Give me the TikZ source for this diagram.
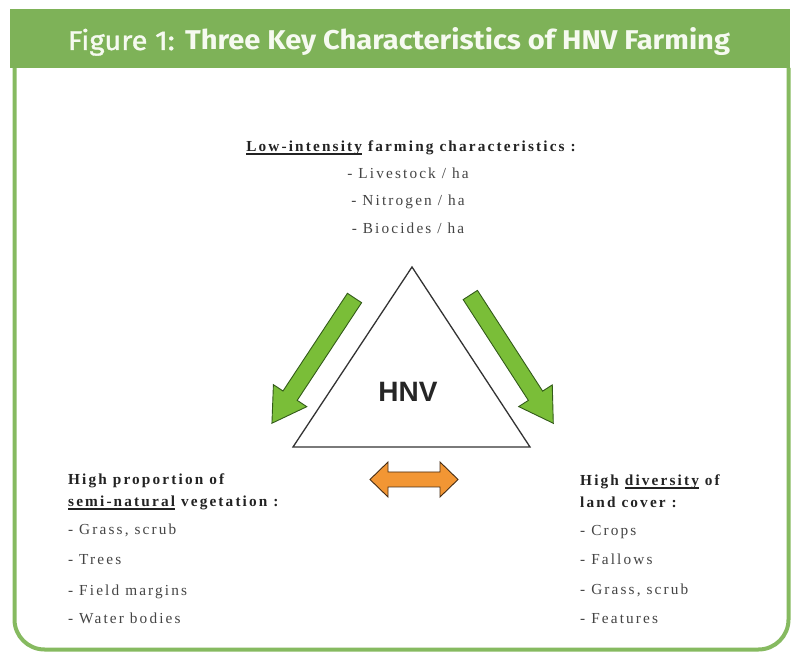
\documentclass[tikz,border=0pt]{standalone}
\usepackage{fontspec}
\setmainfont{Liberation Serif}
\newfontfamily\bodyfont[LetterSpace=14]{Liberation Serif}
\newfontfamily\titlefont{Fira Sans}
\newfontfamily\titlefontm[FakeBold=1.3]{Fira Sans}
\newfontfamily\hnvfont{Liberation Sans}
\definecolor{hdr}{RGB}{126,178,88}
\definecolor{frm}{RGB}{134,186,96}
\definecolor{agreen}{RGB}{122,190,56}
\definecolor{agreenline}{RGB}{50,90,25}
\definecolor{aorange}{RGB}{242,150,52}
\definecolor{aorangeline}{RGB}{70,45,20}
\definecolor{txt}{RGB}{35,35,35}
\definecolor{ttl}{RGB}{246,250,240}
\newcommand\myul[1]{\setbox0\hbox{#1}\rlap{\rule[-2.6pt]{\wd0}{1.4pt}}\box0\relax}
\begin{document}
\begin{tikzpicture}[x=1pt,y=1pt,
  headtxt/.style={inner sep=0pt, font=\fontsize{15.3}{18}\bodyfont\bfseries, text=txt},
  itemtxt/.style={inner sep=0pt, font=\fontsize{15.3}{18}\bodyfont, text=txt!85},
  garrow/.style={fill=agreen, draw=agreenline, line width=0.9pt, line join=miter},
  oarrow/.style={fill=aorange, draw=aorangeline, line width=0.9pt, line join=miter},
  tri/.style={draw=black!80, line width=1.3pt, fill=white, line join=miter}]
\useasboundingbox (0,0) rectangle (792,653);
\fill[white] (0,0) rectangle (792,653);
% frame
\draw[frm, line width=4pt, rounded corners=30pt] (14.5,585) -- (14.5,3.5) -- (788.5,3.5) -- (788.5,585);
\fill[hdr] (10,585) rectangle (790,644);
\node[inner sep=0pt, anchor=base, text=ttl] (title) at (399,603)
  {\resizebox{662pt}{22pt}{\titlefontm Figure 1: \titlefont\bfseries Three Key Characteristics of HNV Farming}};
% triangle
\coordinate (apex) at (412,386);
\coordinate (bl) at (293,206);
\coordinate (br) at (530,206);
\draw[tri] (apex) -- (bl) -- (br) -- cycle;
\node[inner sep=0pt, font=\fontsize{28}{30}\hnvfont\bfseries, text=black!85] (hnv) at (408,261) {HNV};
% green arrows
\begin{scope}[shift={(354.5,355)}, rotate=236.6]
\filldraw[garrow] (0,-8.5) -- (117,-8.5) -- (117,-20) -- (150,0) -- (117,20) -- (117,8.5) -- (0,8.5) -- cycle;
\end{scope}
\begin{scope}[shift={(470.3,358)}, rotate=-57.1]
\filldraw[garrow] (0,-8.5) -- (120,-8.5) -- (120,-20) -- (152.8,0) -- (120,20) -- (120,8.5) -- (0,8.5) -- cycle;
\end{scope}
% orange double arrow
\filldraw[oarrow] (370,173.5) -- (388,191) -- (388,181) -- (440,181) -- (440,191) -- (458,173.5)
  -- (440,156) -- (440,166) -- (388,166) -- (388,156) -- cycle;
% top block
\node[headtxt, anchor=base] (toph) at (411,501) {\myul{Low-intensity} farming characteristics :};
\node[itemtxt, anchor=base] (t1) at (408,474) {- Livestock / ha};
\node[itemtxt, anchor=base] (t2) at (408,447) {- Nitrogen / ha};
\node[itemtxt, anchor=base] (t3) at (408,419) {- Biocides / ha};
% left block
\node[headtxt, anchor=base west] (lh1) at (68,168) {High proportion of};
\node[headtxt, anchor=base west] (lh2) at (68,146) {\myul{semi-natural} vegetation :};
\node[itemtxt, anchor=base west] (l1) at (68,118) {- Grass, scrub};
\node[itemtxt, anchor=base west] (l2) at (68,88) {- Trees};
\node[itemtxt, anchor=base west] (l3) at (68,57) {- Field margins};
\node[itemtxt, anchor=base west] (l4) at (68,30) {- Water bodies};
% right block
\node[headtxt, anchor=base west] (rh1) at (580,167) {High \myul{diversity} of};
\node[headtxt, anchor=base west] (rh2) at (580,145) {land cover :};
\node[itemtxt, anchor=base west] (r1) at (580,117) {- Crops};
\node[itemtxt, anchor=base west] (r2) at (580,88) {- Fallows};
\node[itemtxt, anchor=base west] (r3) at (580,58) {- Grass, scrub};
\node[itemtxt, anchor=base west] (r4) at (580,30) {- Features};
\end{tikzpicture}
\end{document}
